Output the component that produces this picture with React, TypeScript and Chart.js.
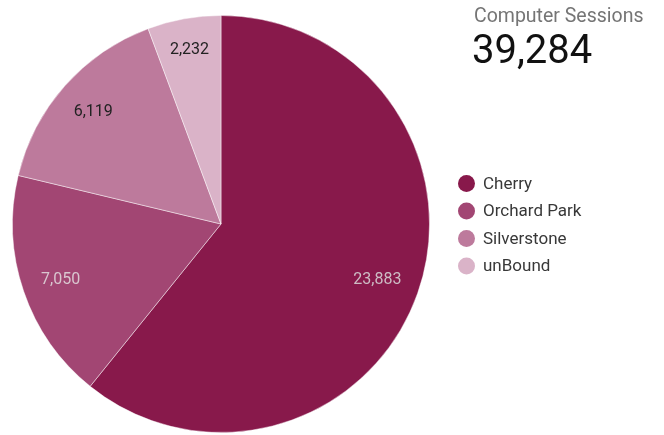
import React, { useEffect, useRef } from "react";
import { Chart, registerables } from "chart.js";

Chart.register(...registerables);

const categories = ["Cherry", "Orchard Park", "Silverstone", "unBound"];
const sessions = [23883, 7050, 6119, 2232];
const sliceColors = ["#88194b", "#a24673", "#bd7a9c", "#dab3c8"];
const labelColors = ["#cdbcc4", "#d9c6cf", "#222222", "#222222"];
const labelRadius = [0.795, 0.813, 0.818, 0.852];
const metricTitle = "Computer Sessions";

const fmt = (n: number) => n.toLocaleString("en-US");

const overlayPlugin = {
  id: "overlay",
  afterDatasetsDraw(chart: any) {
    const ctx = chart.ctx as CanvasRenderingContext2D;
    const meta = chart.getDatasetMeta(0);
    ctx.save();
    ctx.font = "16px Roboto";
    ctx.textAlign = "center";
    ctx.textBaseline = "middle";
    meta.data.forEach((arc: any, i: number) => {
      const { x, y, startAngle, endAngle, outerRadius } = arc.getProps(
        ["x", "y", "startAngle", "endAngle", "outerRadius"],
        true
      );
      const mid = (startAngle + endAngle) / 2;
      const r = outerRadius * labelRadius[i];
      ctx.fillStyle = labelColors[i];
      ctx.fillText(fmt(sessions[i]), x + Math.cos(mid) * r, y + Math.sin(mid) * r + 1);
    });

    // header
    const total = sessions.reduce((a, b) => a + b, 0);
    ctx.textAlign = "left";
    ctx.textBaseline = "alphabetic";
    ctx.fillStyle = "#757575";
    ctx.font = "19.5px Roboto";
    ctx.fillText(metricTitle, 474, 22);
    ctx.fillStyle = "#111111";
    ctx.font = "40px Roboto";
    ctx.fillText(fmt(total), 472, 63);

    // legend
    const rowY = [183.5, 211, 238.5, 266];
    ctx.font = "17px Roboto";
    ctx.textBaseline = "middle";
    categories.forEach((c, i) => {
      ctx.fillStyle = sliceColors[i];
      ctx.beginPath();
      ctx.arc(466.5, rowY[i], 8.5, 0, Math.PI * 2);
      ctx.fill();
      ctx.fillStyle = "#383838";
      ctx.fillText(c, 483, rowY[i] + 1);
    });
    ctx.restore();
  },
};

export default function App() {
  const ref = useRef<HTMLCanvasElement | null>(null);
  useEffect(() => {
    if (!ref.current) return;
    const chart = new Chart(ref.current, {
      type: "pie",
      data: {
        labels: categories,
        datasets: [
          {
            data: sessions,
            backgroundColor: sliceColors,
            borderColor: "rgba(255,255,255,0.45)",
            borderWidth: 1,
          },
        ],
      },
      options: {
        responsive: false,
        animation: false,
        devicePixelRatio: 1,
        layout: { padding: { left: 12, top: 15, right: 234, bottom: 2 } },
        plugins: {
          legend: { display: false },
          tooltip: { enabled: false },
        },
      },
      plugins: [overlayPlugin],
    });
    return () => chart.destroy();
  }, []);
  return (
    <div style={{ position: "absolute", left: 0, top: 0, width: 664, height: 435, background: "#fff" }}>
      <canvas ref={ref} width={664} height={435} />
    </div>
  );
}
